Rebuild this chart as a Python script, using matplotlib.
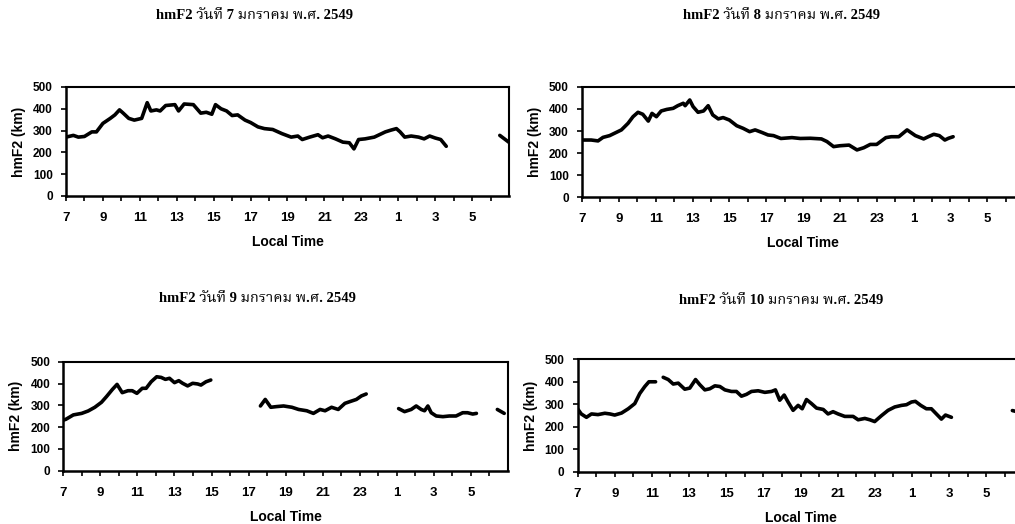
import numpy as np
import matplotlib
matplotlib.use("Agg")
import matplotlib.pyplot as plt
from matplotlib import font_manager
from matplotlib.ft2font import FT2Font

nan = np.nan

# hmF2 (km) vs local time (hours after midnight of the first day; 25 = 01:00 next day)
# nan marks gaps in the record
time_jan7 = [7.0, 7.4, 7.67, 8.0, 8.4, 8.65, 9.0, 9.4, 9.65, 9.9, 10.1, 10.4, 10.7, 11.1,
             11.4, 11.6, 11.9, 12.1, 12.4, 12.9, 13.1, 13.4, 13.9, 14.3, 14.6, 14.9, 15.1,
             15.4, 15.7, 16.0, 16.3, 16.7, 17.0, 17.4, 17.75, 18.2, 18.7, 19.2, 19.56,
             19.8, 20.2, 20.65, 20.9, 21.2, 21.6, 22.0, 22.35, 22.6, 22.85, 23.2, 23.7,
             24.1, 24.3, 24.6, 24.9, 25.1, 25.35, 25.7, 26.1, 26.4, 26.7, 27.0, 27.3,
             27.6, 29.0, 30.5, 30.75, 31.0]
hmf2_jan7 = [270, 278, 270, 273, 294, 294, 333, 356, 372, 395, 380, 356, 348, 356,
             428, 390, 395, 390, 415, 419, 390, 422, 419, 380, 384, 375, 419,
             400, 390, 369, 372, 348, 337, 317, 309, 305, 286, 270, 275,
             259, 270, 281, 267, 275, 262, 247, 244, 216, 259, 262, 270,
             286, 294, 302, 309, 294, 270, 275, 270, 262, 275, 266, 259,
             228, nan, 278, 262, 246]

time_jan8 = [7.0, 7.5, 7.87, 8.14, 8.5, 8.87, 9.14, 9.5, 9.77, 10.04, 10.3, 10.6, 10.8,
             11.04, 11.3, 11.6, 11.95, 12.2, 12.5, 12.6, 12.85, 13.03, 13.3, 13.6, 13.85,
             14.1, 14.4, 14.66, 15.0, 15.4, 15.75, 16.1, 16.4, 16.75, 17.1, 17.4, 17.8,
             18.4, 18.85, 19.4, 20.0, 20.3, 20.66, 21.0, 21.5, 21.93, 22.3, 22.65, 23.0,
             23.5, 23.8, 24.2, 24.65, 25.1, 25.55, 25.8, 26.1, 26.4, 26.7, 26.9, 27.15]
hmf2_jan8 = [259, 259, 255, 271, 279, 294, 305, 335, 365, 385, 376, 345, 380,
             365, 391, 398, 403, 415, 426, 415, 441, 411, 385, 391, 415,
             373, 355, 361, 350, 324, 312, 297, 305, 294, 282, 279, 266,
             270, 266, 267, 264, 252, 229, 233, 236, 214, 224, 239, 239,
             270, 274, 274, 305, 279, 264, 274, 285, 279, 259, 267, 274]

time_jan9 = [7.0, 7.14, 7.54, 7.99, 8.34, 8.7, 9.06, 9.33, 9.65, 9.9, 10.18, 10.49, 10.72,
             10.97, 11.26, 11.47, 11.74, 12.04, 12.28, 12.51, 12.73, 13.0, 13.23, 13.44,
             13.71, 13.98, 14.25, 14.43, 14.7, 14.96, 16.3,
             17.64, 17.9, 18.2, 18.5, 18.89, 19.34, 19.7, 20.14, 20.5, 20.86, 21.13,
             21.48, 21.84, 22.2, 22.47, 22.82, 23.09, 23.35, 24.2,
             25.1, 25.42, 25.78, 26.05, 26.32, 26.5, 26.68, 26.86, 27.13, 27.49, 27.84,
             28.2, 28.56, 28.82, 29.1, 29.3, 29.9, 30.43, 30.8]
hmf2_jan9 = [232, 236, 256, 263, 274, 291, 314, 340, 373, 396, 358, 367, 367,
             355, 378, 378, 408, 431, 428, 419, 424, 404, 413, 401,
             389, 401, 398, 393, 408, 416, nan,
             297, 327, 291, 294, 297, 291, 281, 275, 263, 281, 275,
             291, 281, 309, 317, 327, 343, 352, nan,
             285, 271, 281, 297, 281, 275, 297, 266, 251, 248, 251,
             251, 266, 266, 260, 263, nan, 281, 263]

time_jan10 = [7.0, 7.2, 7.48, 7.75, 8.1, 8.47, 8.74, 9.0, 9.37, 9.73, 10.08, 10.35, 10.62,
              10.84, 11.2, 11.4,
              11.61, 11.88, 12.15, 12.42, 12.77, 13.04, 13.35, 13.58, 13.85, 14.12, 14.39,
              14.66, 14.93, 15.28, 15.55, 15.82, 16.09, 16.36, 16.72, 17.08, 17.44, 17.65,
              17.88, 18.12, 18.33, 18.6, 18.87, 19.09, 19.32, 19.59, 19.86, 20.22, 20.48,
              20.75, 21.02, 21.38, 21.83, 22.1, 22.46, 22.73, 22.99, 23.35, 23.71, 24.07,
              24.43, 24.7, 24.97, 25.18, 25.47, 25.77, 26.04, 26.31, 26.58, 26.8, 27.12,
              28.5, 30.4, 30.6]
hmf2_jan10 = [280, 257, 242, 257, 254, 260, 257, 252, 261, 280, 303, 348, 379,
              400, 400, nan,
              420, 410, 390, 394, 367, 372, 410, 387, 364, 369, 382,
              379, 364, 357, 357, 336, 344, 357, 360, 353, 357, 364,
              318, 341, 310, 273, 295, 280, 321, 303, 283, 277, 257,
              267, 257, 246, 246, 231, 237, 231, 223, 249, 273, 288,
              295, 298, 310, 313, 295, 280, 280, 257, 234, 252, 242,
              nan, 272, 268]

titles = ["hmF2 วันที่ 7 มกราคม พ.ศ. 2549", "hmF2 วันที่ 8 มกราคม พ.ศ. 2549",
          "hmF2 วันที่ 9 มกราคม พ.ศ. 2549", "hmF2 วันที่ 10 มกราคม พ.ศ. 2549"]
hour_ticks = list(range(7, 30, 2))
hour_labels = ["7", "9", "11", "13", "15", "17", "19", "21", "23", "1", "3", "5"]
km_ticks = [0, 100, 200, 300, 400, 500]


def find_thai_font():
    # pick an installed font that actually carries Thai glyphs
    names = []
    for f in font_manager.fontManager.ttflist:
        try:
            if ord("ว") in FT2Font(f.fname).get_charmap():
                names.append(f.name)
        except Exception:
            pass
    for pref in ["Noto Serif Thai", "Noto Sans Thai", "Loma", "Garuda", "Tlwg Typo"]:
        if pref in names:
            return pref
    return names[0] if names else "DejaVu Sans"


THAI = find_thai_font()
plt.rcParams["font.family"] = ["Liberation Sans", "DejaVu Sans"]
plt.rcParams["font.weight"] = "bold"

fig = plt.figure(figsize=(10.15, 5.24), dpi=100)

panels = [
    (time_jan7, hmf2_jan7, [0.065, 0.626, 0.4365, 0.208], (0.251, 0.971)),
    (time_jan8, hmf2_jan8, [0.5734, 0.624, 0.4355, 0.210], (0.770, 0.971)),
    (time_jan9, hmf2_jan9, [0.0624, 0.1017, 0.438, 0.208], (0.254, 0.431)),
    (time_jan10, hmf2_jan10, [0.569, 0.0998, 0.4394, 0.2145], (0.770, 0.427)),
]

for (t, h, rect, tpos), title in zip(panels, titles):
    ax = fig.add_axes(rect)
    ax.plot(t, h, color="black", linewidth=2.6, solid_capstyle="round")
    ax.set_xlim(7, 31)
    ax.set_ylim(0, 500)
    ax.set_xticks(hour_ticks)
    ax.set_xticklabels(hour_labels)
    ax.set_xticks(range(7, 31), minor=True)
    ax.set_yticks(km_ticks)
    ax.tick_params(axis="x", which="major", length=3.5, width=1.2, pad=8, labelsize=9.5)
    ax.tick_params(axis="x", which="minor", length=3.5, width=1.2)
    ax.tick_params(axis="y", length=3.5, width=1.2, pad=6, labelsize=8.5)
    for s in ["left", "bottom"]:
        ax.spines[s].set_linewidth(1.8)
    for s in ["top", "right"]:
        ax.spines[s].set_linewidth(1.5)
    ax.set_xlabel("Local Time", fontsize=10, fontweight="bold", labelpad=8)
    ax.set_ylabel("hmF2 (km)", fontsize=10, fontweight="bold", labelpad=5)
    fig.text(tpos[0], tpos[1], title, ha="center", va="center", fontsize=10.5,
             fontweight="bold", family=["Liberation Serif", THAI])

fig.savefig("out.png", dpi=100)
